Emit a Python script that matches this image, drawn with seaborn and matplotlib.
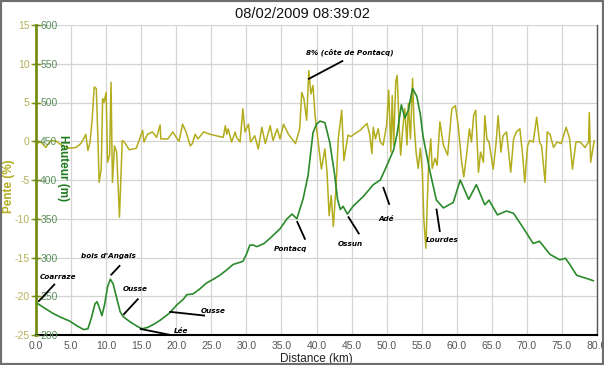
import numpy as np
import pandas as pd
import matplotlib
matplotlib.use("Agg")
import matplotlib.pyplot as plt
import seaborn as sns
from matplotlib.patches import Rectangle

# ---------------- data ----------------
title = "08/02/2009 08:39:02"

height_km = [0.0, 1.0, 2.4, 3.5, 4.8, 5.8, 6.8, 7.4, 7.9, 8.4, 8.7, 9.0, 9.4, 9.8, 10.2, 10.6,
             11.0, 11.5, 12.0, 12.4, 13.4, 14.3, 15.1, 16.0, 17.0, 17.7, 19.0, 20.1, 21.0, 21.5,
             22.4, 23.3, 24.3, 25.3, 26.2, 27.2, 28.1, 29.5, 30.0, 30.5, 31.0, 31.5, 32.5, 33.4,
             34.8, 35.8, 36.5, 37.2, 38.1, 38.8, 39.5, 40.0, 40.5, 41.2, 41.9, 42.6, 43.0, 43.4,
             43.8, 44.4, 45.2, 46.7, 48.1, 49.1, 50.0, 51.0, 51.5, 52.1, 52.6, 53.1, 53.7, 54.3,
             54.8, 55.2, 56.2, 57.1, 58.1, 59.5, 60.5, 61.7, 62.8, 64.0, 64.6, 65.8, 67.1, 68.1,
             69.5, 70.9, 71.8, 73.3, 74.7, 75.5, 76.2, 77.1, 78.5, 79.5]
height_m = [242, 236, 228, 223, 218, 212, 207, 208, 222, 240, 243, 236, 225, 240, 262, 272,
            266, 248, 230, 224, 217, 212, 208, 210, 215, 219, 228, 239, 246, 252,
            253, 259, 267, 272, 277, 284, 291, 295, 304, 316, 316, 314, 318, 325,
            337, 350, 356, 350, 376, 406, 461, 472, 476, 474, 448, 406, 375, 362,
            366, 356, 366, 379, 394, 400, 418, 439, 460, 497, 480, 490, 518, 508,
            485, 456, 410, 374, 364, 371, 400, 375, 394, 368, 374, 355, 360, 357,
            338, 318, 321, 304, 297, 299, 290, 277, 273, 270]

slope_km = [0.0, 0.7, 1.4, 2.1, 2.9, 3.8, 4.8, 5.7, 6.4, 6.9, 7.1, 7.4, 7.7, 8.0, 8.3, 8.6,
            8.8, 9.0, 9.3, 9.5, 9.7, 10.0, 10.2, 10.5, 10.7, 10.9, 11.2, 11.5, 11.9, 12.3,
            12.6, 13.3, 14.3, 14.7, 15.2, 15.4, 15.9, 16.6, 17.2, 17.7, 17.8, 18.8, 19.5,
            20.0, 20.4, 20.9, 21.4, 22.0, 22.3, 22.7, 23.1, 23.9, 24.8, 26.7, 27.0, 27.2,
            27.4, 27.9, 28.4, 28.6, 29.1, 29.5, 29.8, 30.3, 30.6, 31.2, 31.7, 32.2, 32.7,
            33.4, 33.8, 34.4, 34.8, 35.3, 36.0, 36.5, 37.0, 37.6, 37.9, 38.2, 38.6, 38.9,
            39.2, 39.5, 39.8, 40.3, 40.7, 41.2, 41.5, 41.8, 42.1, 42.4, 42.8, 43.1, 43.6,
            43.9, 44.3, 44.5, 44.9, 45.5, 46.2, 47.2, 47.6, 47.9, 48.1, 48.4, 48.8, 49.1,
            49.5, 50.0, 50.3, 50.6, 50.8, 51.0, 51.3, 51.5, 51.8, 52.0, 52.3, 52.6, 52.9,
            53.1, 53.4, 53.7, 53.9, 54.2, 54.5, 54.8, 55.1, 55.3, 55.6, 55.8, 56.0, 56.3,
            56.5, 56.9, 57.2, 57.6, 58.1, 58.7, 59.3, 59.8, 60.2, 60.7, 61.0, 61.4, 61.8,
            62.1, 62.4, 62.7, 63.1, 63.4, 63.8, 64.0, 64.3, 64.6, 65.2, 65.6, 65.9, 66.3,
            66.6, 67.1, 67.7, 68.1, 68.5, 69.0, 69.4, 69.7, 70.1, 70.4, 70.9, 71.4, 71.8,
            72.1, 72.6, 72.9, 73.3, 73.8, 74.3, 74.9, 75.6, 76.1, 76.5, 77.0, 77.6, 78.3,
            78.8, 78.9, 79.1, 79.6]
slope_pct = [-0.3, -0.1, -0.8, 0.1, 0.0, -0.6, -0.9, -0.8, -0.3, 0.5, 0.9, -1.2, -0.1, 2.7, 7.0, 6.8,
             1.2, -5.3, -3.6, 5.5, 5.0, 6.3, -2.7, -1.8, 7.6, -5.3, -0.6, -1.4, -9.8, 0.1,
             -0.1, -1.1, -0.9, 0.1, 1.4, -0.1, 0.9, 1.2, 0.5, 2.1, 0.3, 0.3, 1.2,
             0.5, 0.0, 2.2, 1.2, -0.6, -0.3, 0.9, 0.3, 1.2, 0.9, 0.5, 2.0, 0.9,
             1.6, -0.1, 1.2, 0.5, -0.1, 4.2, 1.2, 2.2, -0.1, 0.7, -1.0, 1.8, -0.3,
             2.0, 0.1, 1.6, 0.3, 2.2, 0.9, 0.3, -0.3, 1.6, 6.3, 5.5, 2.7, 9.1,
             6.1, 7.2, 3.3, -0.6, -3.6, -1.0, -4.0, -9.6, -7.0, -11.0, -5.7, 0.3, 4.0,
             -2.5, -0.3, 0.8, 0.6, 1.0, 1.4, 2.3, 0.8, -1.6, 1.8, 0.3, 1.6, -0.1,
             -0.5, 2.1, 6.6, -1.4, 5.9, -0.5, 7.7, 8.5, 1.6, -1.8, 1.6, 4.2, -0.5,
             4.9, 0.3, 8.1, 2.5, -1.4, -3.5, -0.9, -4.0, -10.0, -13.8, -7.8, -2.7, 0.3,
             -3.5, -2.2, -3.1, 2.5, -0.5, -1.8, 4.2, 4.6, 2.1, -2.7, -4.6, -1.8, 1.6,
             -0.1, 3.3, 4.0, -4.0, -1.4, -2.7, 3.3, 0.3, -0.1, -3.6, -0.3, 3.3, -1.4,
             0.7, 1.2, -4.0, 0.3, 1.2, 1.6, -1.8, -5.3, -0.6, 0.1, -0.1, 3.1, -0.1,
             -0.6, -5.3, 1.2, 0.9, -0.8, -0.1, -0.3, 1.8, 0.3, -3.6, -0.1, -0.1, -0.8,
             -0.1, 3.7, -2.7, 0.1]

x_ticks = [0, 5, 10, 15, 20, 25, 30, 35, 40, 45, 50, 55, 60, 65, 70, 75, 80]
slope_ticks = [-25, -20, -15, -10, -5, 0, 5, 10, 15]
height_ticks = [200, 250, 300, 350, 400, 450, 500, 550, 600]

# annotations: label, text (km, m), line start (km, m), line end (km, m)
notes = [
    ("Coarraze", (3.1, 275), (0.33, 243), (2.7, 266)),
    ("bois d'Angaïs", (10.3, 302), (10.65, 277), (12.0, 290)),
    ("Ousse", (14.1, 259), (12.45, 226), (14.6, 247)),
    ("Ousse", (25.3, 231), (19.0, 230), (24.1, 225)),
    ("Lée", (20.7, 205), (14.8, 208), (19.2, 200)),
    ("Pontacq", (36.3, 311), (37.2, 347), (38.4, 323)),
    ("Ossun", (44.8, 317), (44.5, 353), (46.1, 330)),
    ("Adé", (49.9, 350), (49.5, 391), (50.4, 368)),
    ("Lourdes", (57.9, 323), (57.1, 363), (57.6, 333)),
    ("8% (côte de Pontacq)", (44.8, 565), (38.8, 530), (43.8, 554)),
]

# ---------------- styling ----------------
sns.set_style("white")
plt.rcParams['font.family'] = ['Liberation Sans', 'DejaVu Sans']

OLIVE = "#b3ad1e"
GREEN = "#2b8a2b"
OLIVE_TXT = "#b5b05a"
GREEN_TXT = "#5b8f5b"

fig = plt.figure(figsize=(6.04, 3.65), dpi=100)
fig.patch.set_facecolor("white")
ax = fig.add_axes([36 / 604, 1 - 335 / 365, 561 / 604, 310 / 365])
ax2 = ax.twinx()

df_s = pd.DataFrame({"km": slope_km, "pct": slope_pct})
df_h = pd.DataFrame({"km": height_km, "m": height_m})

sns.lineplot(data=df_s, x="km", y="pct", ax=ax, color=OLIVE, lw=1.1, sort=False)
sns.lineplot(data=df_h, x="km", y="m", ax=ax2, color=GREEN, lw=1.2, sort=False)

ax.set_xlim(0, 80)
ax.set_ylim(-25, 15)
ax2.set_ylim(200, 600)

ax.set_xticks(x_ticks)
ax.set_xticklabels([f"{v:.1f}" for v in x_ticks])
ax.set_yticks(slope_ticks)
ax.set_yticklabels([str(v) for v in slope_ticks])
ax2.set_yticks(height_ticks)
ax2.set_yticklabels([str(v) for v in height_ticks])

ax.grid(True, color="#d4d4d4", lw=0.9)
ax.set_axisbelow(True)

# spines
ax.spines["top"].set_visible(False)
ax.spines["right"].set_color("#555555")
ax.spines["right"].set_linewidth(1.0)
ax.spines["left"].set_color("#8a9a1a")
ax.spines["left"].set_linewidth(2.0)
ax.spines["bottom"].set_color("black")
ax.spines["bottom"].set_linewidth(1.5)
for s in ["top", "left", "bottom"]:
    ax2.spines[s].set_visible(False)
ax2.spines["right"].set_position(("axes", 0))
ax2.spines["right"].set_color("#6a8a1a")
ax2.spines["right"].set_linewidth(1.0)

ax.tick_params(axis="x", direction="inout", length=5, width=1, color="black", pad=2,
               labelsize=7.5, labelcolor="#555555")
ax.tick_params(axis="y", direction="inout", length=7, width=1, color="#8a9a1a", pad=1,
               labelsize=7.5, labelcolor=OLIVE_TXT)
ax2.tick_params(axis="y", direction="inout", length=5, width=1, color="#6a8a1a", pad=0.5,
                labelsize=7.5, labelcolor=GREEN_TXT)

ax.set_xlabel("Distance (km)", fontsize=8.5, color="#222222", labelpad=1)
ax.set_ylabel("Pente (%)", fontsize=8.5, fontweight="bold", color=OLIVE, va="center")
ax.yaxis.set_label_coords(-0.0485, 0.48)
ax2.set_ylabel("Hauteur (m)", fontsize=8.5, fontweight="bold", color="#1f7a1f",
               rotation=270, va="center")
ax2.yaxis.set_label_coords(0.048, 0.54)

for label, (tx, ty), (x0, y0), (x1, y1) in notes:
    ax2.plot([x0, x1], [y0, y1], color="black", lw=1.3, solid_capstyle="butt")
    ax2.text(tx, ty, label, fontsize=5.2, fontweight="bold", fontstyle="italic",
             ha="center", va="center", color="black", family="DejaVu Sans")

fig.text(0.5, 1 - 14 / 365, title, ha="center", va="center", fontsize=10.5, color="#111111")

fig.patches.append(Rectangle((0, 0), 1, 1, transform=fig.transFigure, fill=False,
                             edgecolor="#6e6e6e", lw=3, zorder=10))

fig.savefig("out.png", dpi=100, facecolor=fig.get_facecolor())
